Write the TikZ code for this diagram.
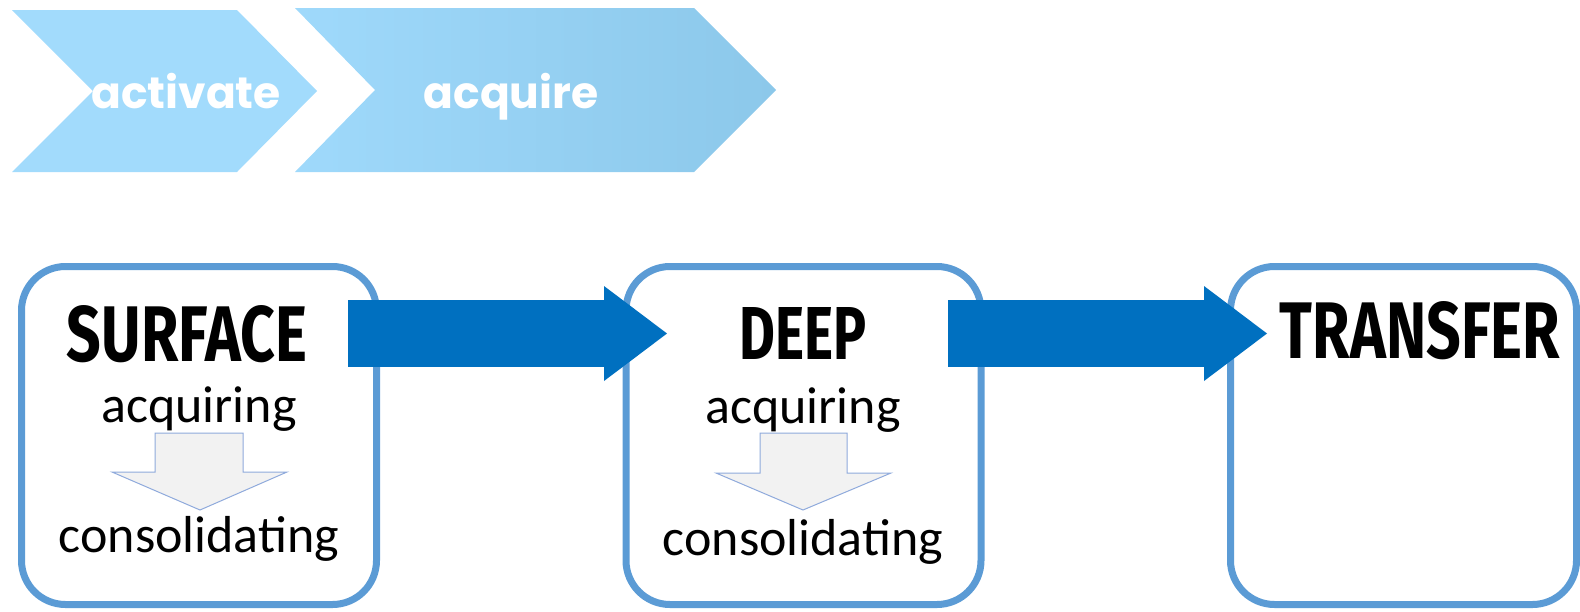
\documentclass[tikz,border=0pt]{standalone}
\usepackage{fontspec}
\usetikzlibrary{arrows.meta}
\newfontfamily\chevfont{Poppins}
\newfontfamily\bodyfont{Carlito}
\newfontfamily\titlefont{Fira Sans}
\definecolor{chevA}{HTML}{A2DBFC}
\definecolor{chevBl}{HTML}{9FD9FB}
\definecolor{chevBr}{HTML}{8CC8EA}
\definecolor{boxborder}{HTML}{5B9BD5}
\definecolor{bigblue}{HTML}{0070C0}
\definecolor{smallfill}{HTML}{F2F2F2}
\definecolor{smallline}{HTML}{8FAADC}
\tikzset{
  stagebox/.style={draw=boxborder, line width=3.5pt, rounded corners=22pt, fill=white,
    minimum width=177.5pt, minimum height=169pt, inner sep=0pt, outer sep=0pt},
  chevtext/.style={text=white, font=\chevfont\bfseries\fontsize{22pt}{26pt}\selectfont, anchor=base, inner sep=0pt},
  bodytext/.style={text=black, font=\bodyfont\fontsize{26pt}{30pt}\selectfont, anchor=base, inner sep=0pt},
  titletext/.style={text=black, font=\titlefont\bfseries, anchor=south, inner sep=0pt},
  bigarrow/.style={draw=bigblue, line width=33.5pt, line cap=butt,
    -{Triangle[length=31.5pt, width=47.5pt, line width=0pt, fill=bigblue]}},
  smallarrow/.style={draw=smallline, line width=0.5pt, fill=smallfill, line join=miter},
}
\begin{document}
\begin{tikzpicture}[x=0.5pt, y=-0.5pt]
\useasboundingbox (0,0) rectangle (1580,611);
\clip (0,0) rectangle (1580,611);
% chevrons
\fill[chevA] (12,10) -- (237,10) -- (317,91) -- (237,172) -- (12,172) -- (93,91) -- cycle;
\shade[left color=chevBl, right color=chevBr] (295,8) -- (694,8) -- (776,90) -- (694,172) -- (295,172) -- (375,90) -- cycle;
\node[chevtext] (activate) at (186,108) {activate};
\node[chevtext] (acquire) at (511,108) {acquire};
% boxes
\node[stagebox] (box1) at (199,435.5) {};
\node[stagebox] (box2) at (803.5,435.5) {};
\node[stagebox, minimum width=173pt] (box3) at (1403.5,435.5) {};
% titles
\node[titletext] (surface) at (187,363) {\resizebox{120pt}{28pt}{SURFACE}};
\node[titletext] (deep) at (803,360) {\resizebox{63.5pt}{26pt}{DEEP}};
\node[titletext] (transfer) at (1420,360) {\resizebox{140pt}{28.5pt}{TRANSFER}};
% body text
\node[bodytext] (acq1) at (199,422) {acquiring};
\node[bodytext] (cons1) at (199,552) {consolidating};
\node[bodytext] (acq2) at (803,423) {acquiring};
\node[bodytext] (cons2) at (803,555) {consolidating};
% small arrows
\draw[smallarrow] (155,433) -- (243,433) -- (243,472) -- (287,472) -- (200,510) -- (112,472) -- (155,472) -- cycle;
\draw[smallarrow] (760,433) -- (847,433) -- (847,473) -- (891,473) -- (803,510) -- (716,473) -- (760,473) -- cycle;
% big arrows
\coordinate (a1s) at (348,333.5);
\coordinate (a1e) at (667,333.5);
\coordinate (a2s) at (948,333.5);
\coordinate (a2e) at (1267,333.5);
\draw[bigarrow] (a1s) -- (a1e);
\draw[bigarrow] (a2s) -- (a2e);
\end{tikzpicture}
\end{document}
